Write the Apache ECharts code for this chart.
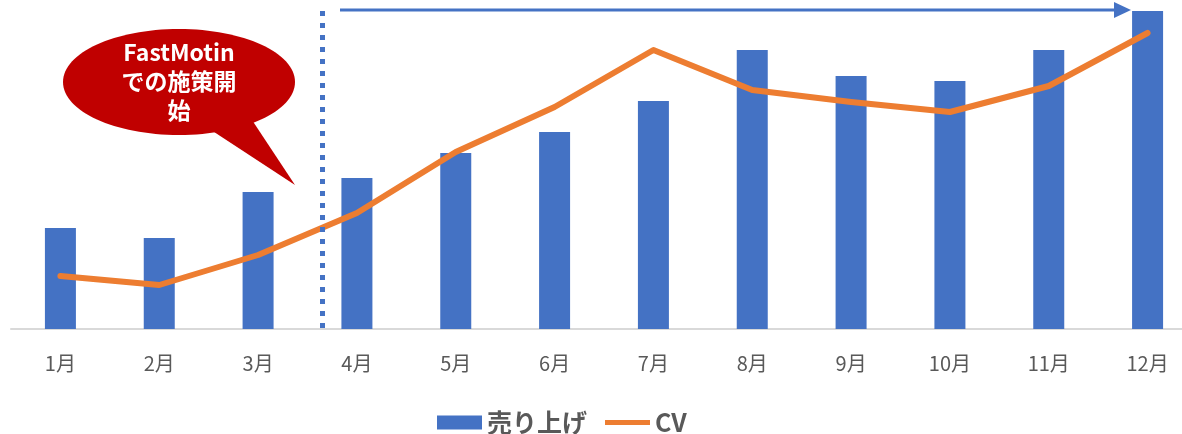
<!DOCTYPE html>
<html>
<head>
<meta charset="utf-8">
<script src="https://cdn.jsdelivr.net/npm/echarts@6/dist/echarts.min.js"></script>
<style>
  html, body { margin: 0; padding: 0; background: #fff; overflow: hidden; }
  #chart { width: 1200px; height: 434px; }
</style>
</head>
<body>
<div id="chart"></div>
<script>
const months = ['1月', '2月', '3月', '4月', '5月', '6月', '7月', '8月', '9月', '10月', '11月', '12月']
const sales = [101, 91, 137, 151, 176, 197, 228, 279, 253, 248, 279, 318]
const cv = [53, 44, 74, 116, 177, 222, 279, 239, 227, 217, 243, 296]

const myChart = echarts.init(document.getElementById('chart'))
const font = 'Noto Sans CJK JP'

const options = {
  backgroundColor: '#fff',
  animation: false,
  textStyle: { fontFamily: font },
  grid: {
    left: 11,
    top: 9,
    width: 1186,
    height: 320
  },
  legend: {
    left: 432,
    top: 405,
    itemWidth: 45,
    itemHeight: 14,
    itemGap: 18,
    textStyle: {
      color: '#595959',
      fontSize: 25,
      fontWeight: 'bold',
      fontFamily: font
    },
    data: [
      { name: '売り上げ', icon: 'rect' },
      { name: 'CV', icon: 'path://M0,0H45V5H0Z', itemStyle: { color: '#ED7D31' } }
    ]
  },
  xAxis: {
    type: 'category',
    data: months,
    axisLine: { lineStyle: { color: '#D9D9D9', width: 2 } },
    axisTick: { show: false },
    axisLabel: {
      color: '#595959',
      fontSize: 20,
      margin: 24,
      fontFamily: font
    }
  },
  yAxis: {
    type: 'value',
    min: 0,
    max: 320,
    show: false,
    splitLine: { show: false }
  },
  series: [
    {
      name: '売り上げ',
      type: 'bar',
      barWidth: 31,
      itemStyle: { color: '#4472C4' },
      data: sales
    },
    {
      name: 'CV',
      type: 'line',
      symbol: 'none',
      lineStyle: { color: '#ED7D31', width: 6, cap: 'round', join: 'round' },
      itemStyle: { color: '#ED7D31' },
      data: cv
    }
  ],
  graphic: [
    // 施策開始の区切り線
    {
      type: 'line',
      z: 100,
      shape: { x1: 322.5, y1: 11, x2: 322.5, y2: 330 },
      style: { stroke: '#4472C4', lineWidth: 5, lineDash: [5, 7] }
    },
    // 上部の矢印
    {
      type: 'line',
      z: 100,
      shape: { x1: 340, y1: 10, x2: 1118, y2: 10 },
      style: { stroke: '#4472C4', lineWidth: 3 }
    },
    {
      type: 'polygon',
      z: 100,
      shape: { points: [[1114, 2], [1131, 10], [1114, 18]] },
      style: { fill: '#4472C4' }
    },
    // 吹き出し
    {
      type: 'ellipse',
      z: 100,
      shape: { cx: 179, cy: 82, rx: 116, ry: 53 },
      style: { fill: '#C00000' }
    },
    {
      type: 'polygon',
      z: 100,
      shape: { points: [[208, 128], [252, 120], [295, 185]] },
      style: { fill: '#C00000' }
    },
    {
      type: 'text',
      z: 101,
      x: 179,
      y: 81,
      style: {
        text: 'FastMotin\nでの施策開\n始',
        fill: '#fff',
        font: 'bold 23px "Noto Sans CJK JP"',
        lineHeight: 29,
        align: 'center',
        verticalAlign: 'middle'
      }
    }
  ]
}
myChart.setOption(options)
</script>
</body>
</html>
